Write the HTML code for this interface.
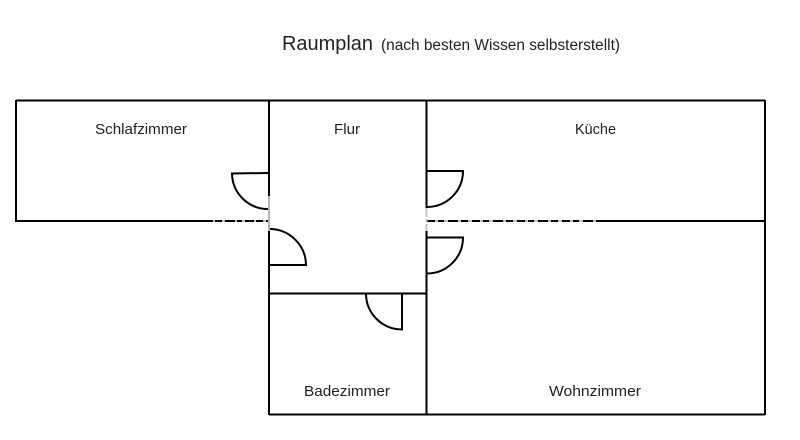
<!DOCTYPE html>
<html>
<head>
<meta charset="utf-8">
<style>
html,body{margin:0;padding:0;background:#fff;width:800px;height:440px;overflow:hidden}
svg{display:block}
text{font-family:"Liberation Sans",sans-serif;fill:#222;font-size:15px}
</style>
</head>
<body>
<svg width="800" height="440" viewBox="0 0 800 440" xmlns="http://www.w3.org/2000/svg">
<rect width="800" height="440" fill="#fff"/>
<g fill="none" stroke="#000" stroke-width="2">
  <!-- outer walls -->
  <path d="M16 100.500H765M16 100V221M765 100V415M269 414.500H765"/>
  <path d="M269 100V196M269 231V415M426.500 100V208M426.500 231V415M269 293.500H426.500"/>
  <path d="M15 221H204M600 221H765"/>
  <!-- doors -->
  <path d="M268 173L232 173.500A36 36 0 0 0 268 209"/>
  <path d="M269 229A36.500 36.500 0 0 1 306 265L269 265"/>
  <path d="M427 171H463A36 36 0 0 1 427 207"/>
  <path d="M427 237.500H463A36 36 0 0 1 427 273.500"/>
  <path d="M366 294A36 36 0 0 0 402 329.500V294"/>
</g>
<!-- watermark-damaged segments: gray underlay with black dashes -->
<g fill="none" stroke-width="2">
  <path d="M204 221H269" stroke="#c0c0c0"/>
  <path d="M427 221H600" stroke="#c0c0c0"/>
  <path d="M204 221H269" stroke="#000" stroke-dasharray="9 2 7 3 10 2 5 3"/>
  <path d="M427 221H600" stroke="#000" stroke-dasharray="8 3 6 4 10 3 7 4"/>
  <path d="M269 196V231" stroke="#b5b5b5"/>
  <path d="M426.500 208V231" stroke="#c4c4c4" stroke-dasharray="9 2 3 2"/>
</g>
<!-- labels -->
<text x="282" y="50" style="font-size:20px" textLength="91" lengthAdjust="spacingAndGlyphs">Raumplan</text>
<text x="381" y="50" style="font-size:15.500px" textLength="239" lengthAdjust="spacingAndGlyphs">(nach besten Wissen selbsterstellt)</text>
<text x="95" y="134" textLength="92" lengthAdjust="spacingAndGlyphs">Schlafzimmer</text>
<text x="334" y="134" textLength="26" lengthAdjust="spacingAndGlyphs">Flur</text>
<text x="575" y="134" textLength="41" lengthAdjust="spacingAndGlyphs">Küche</text>
<text x="304" y="396" textLength="86" lengthAdjust="spacingAndGlyphs">Badezimmer</text>
<text x="549" y="396" textLength="92" lengthAdjust="spacingAndGlyphs">Wohnzimmer</text>
</svg>
</body>
</html>
